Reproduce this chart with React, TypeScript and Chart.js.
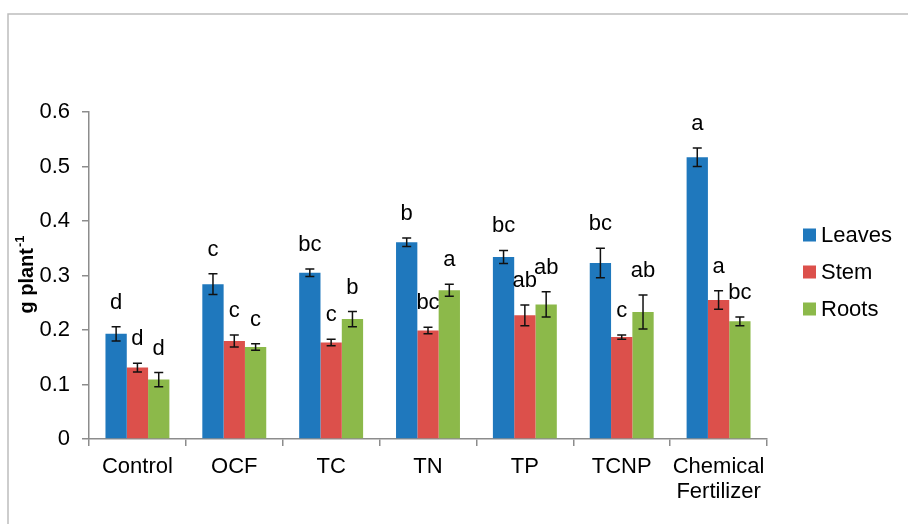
import React, { useEffect, useRef } from "react";
import { Chart, registerables } from "chart.js";

Chart.register(...registerables);

// ---- data ----
const categories: (string | string[])[] = ["Control", "OCF", "TC", "TN", "TP", "TCNP", ["Chemical", "Fertilizer"]];
const seriesNames = ["Leaves", "Stem", "Roots"];
const leaves = [0.193, 0.284, 0.305, 0.361, 0.334, 0.323, 0.517];
const leavesErr = [0.013, 0.019, 0.007, 0.008, 0.012, 0.027, 0.017];
const stem = [0.131, 0.18, 0.177, 0.199, 0.227, 0.187, 0.255];
const stemErr = [0.008, 0.011, 0.006, 0.006, 0.019, 0.004, 0.017];
const roots = [0.109, 0.169, 0.22, 0.273, 0.247, 0.233, 0.216];
const rootsErr = [0.013, 0.006, 0.014, 0.011, 0.023, 0.031, 0.008];
const leavesLetters = ["d", "c", "bc", "b", "bc", "bc", "a"];
const stemLetters = ["d", "c", "c", "bc", "ab", "c", "a"];
const rootsLetters = ["d", "c", "b", "a", "ab", "ab", "bc"];
const yMin = 0;
const yMax = 0.6;
const yStep = 0.1;
const yTitle = "g plant";
const yTitleSup = "-1";

const colors = ["#1f78bd", "#dc504b", "#8cb94a"];
const FONT = "'Liberation Sans', Arial, sans-serif";

const errors = [leavesErr, stemErr, rootsErr];
const letters = [leavesLetters, stemLetters, rootsLetters];

const overlayPlugin = {
  id: "overlay",
  beforeDraw(chart: any) {
    const ctx = chart.ctx;
    ctx.save();
    ctx.strokeStyle = "#bdbdbd";
    ctx.lineWidth = 1.5;
    ctx.beginPath();
    ctx.moveTo(8, chart.height);
    ctx.lineTo(8, 14);
    ctx.lineTo(chart.width, 14);
    ctx.stroke();
    ctx.restore();
  },
  afterDatasetsDraw(chart: any) {
    const ctx = chart.ctx;
    const yScale = chart.scales.y;
    ctx.save();
    chart.data.datasets.forEach((ds: any, di: number) => {
      const meta = chart.getDatasetMeta(di);
      meta.data.forEach((bar: any, i: number) => {
        const v = ds.data[i];
        const e = errors[di][i];
        const x = bar.x;
        const yt = yScale.getPixelForValue(v + e);
        const yb = yScale.getPixelForValue(v - e);
        ctx.strokeStyle = "#111";
        ctx.lineWidth = 1.5;
        ctx.beginPath();
        ctx.moveTo(x, yt);
        ctx.lineTo(x, yb);
        ctx.moveTo(x - 4.5, yt);
        ctx.lineTo(x + 4.5, yt);
        ctx.moveTo(x - 4.5, yb);
        ctx.lineTo(x + 4.5, yb);
        ctx.stroke();
        ctx.fillStyle = "#000";
        ctx.font = `22px ${FONT}`;
        ctx.textAlign = "center";
        ctx.textBaseline = "middle";
        ctx.fillText(letters[di][i], x, yt - 24);
      });
    });
    ctx.restore();
  },
  afterDraw(chart: any) {
    const ctx = chart.ctx;
    ctx.save();
    // legend
    const lx = 803;
    const rowsY = [235, 272, 309];
    ctx.font = `22px ${FONT}`;
    ctx.textAlign = "left";
    ctx.textBaseline = "middle";
    seriesNames.forEach((name, i) => {
      ctx.fillStyle = colors[i];
      ctx.fillRect(lx, rowsY[i] - 6.5, 13, 13);
      ctx.fillStyle = "#000";
      ctx.fillText(name, lx + 18, rowsY[i] + 1);
    });
    // y axis title
    ctx.translate(26, 275);
    ctx.rotate(-Math.PI / 2);
    ctx.font = `bold 20px ${FONT}`;
    const w1 = ctx.measureText(yTitle).width;
    ctx.font = `bold 13px ${FONT}`;
    const w2 = ctx.measureText(yTitleSup).width;
    const start = -(w1 + w2) / 2;
    ctx.fillStyle = "#000";
    ctx.textBaseline = "alphabetic";
    ctx.font = `bold 20px ${FONT}`;
    ctx.fillText(yTitle, start, 7);
    ctx.font = `bold 13px ${FONT}`;
    ctx.fillText(yTitleSup, start + w1 + 1, -2);
    ctx.restore();
  },
};

export default function App() {
  const ref = useRef<HTMLCanvasElement | null>(null);
  useEffect(() => {
    document.body.style.margin = "0";
    if (!ref.current) return;
    const seriesData = [leaves, stem, roots];
    const chart = new Chart(ref.current, {
      type: "bar",
      data: {
        labels: categories,
        datasets: seriesNames.map((name, i) => ({
          label: name,
          data: seriesData[i],
          backgroundColor: colors[i],
          borderWidth: 0,
          categoryPercentage: 0.66,
          barPercentage: 1.0,
        })),
      },
      options: {
        animation: false,
        responsive: true,
        maintainAspectRatio: false,
        layout: { padding: { top: 112, right: 141, left: 0, bottom: 0 } },
        plugins: {
          legend: { display: false },
          tooltip: { enabled: false },
        },
        scales: {
          x: {
            grid: {
              display: true,
              drawOnChartArea: false,
              drawTicks: true,
              tickLength: 7,
              color: "#8c8c8c",
              lineWidth: 1.5,
              offset: true,
            },
            border: { display: true, color: "#8c8c8c", width: 1.5 },
            ticks: {
              color: "#000",
              font: { family: FONT, size: 22, lineHeight: 1.15 },
              padding: 8,
              maxRotation: 0,
              autoSkip: false,
            },
            afterFit(scale: any) {
              scale.height = 85;
            },
          },
          y: {
            min: yMin,
            max: yMax,
            grid: {
              display: true,
              drawOnChartArea: false,
              drawTicks: true,
              tickLength: 7,
              color: "#8c8c8c",
              lineWidth: 1.5,
            },
            border: { display: true, color: "#8c8c8c", width: 1.5 },
            ticks: {
              stepSize: yStep,
              color: "#000",
              font: { family: FONT, size: 22 },
              padding: 12,
              callback: (v: any) => (Number(v) === 0 ? "0" : Number(v).toFixed(1)),
            },
            afterFit(scale: any) {
              scale.width = 89;
            },
          },
        },
      },
      plugins: [overlayPlugin],
    });
    return () => chart.destroy();
  }, []);
  return (
    <div style={{ position: "relative", width: 908, height: 524, background: "#fff" }}>
      <canvas ref={ref} />
    </div>
  );
}
